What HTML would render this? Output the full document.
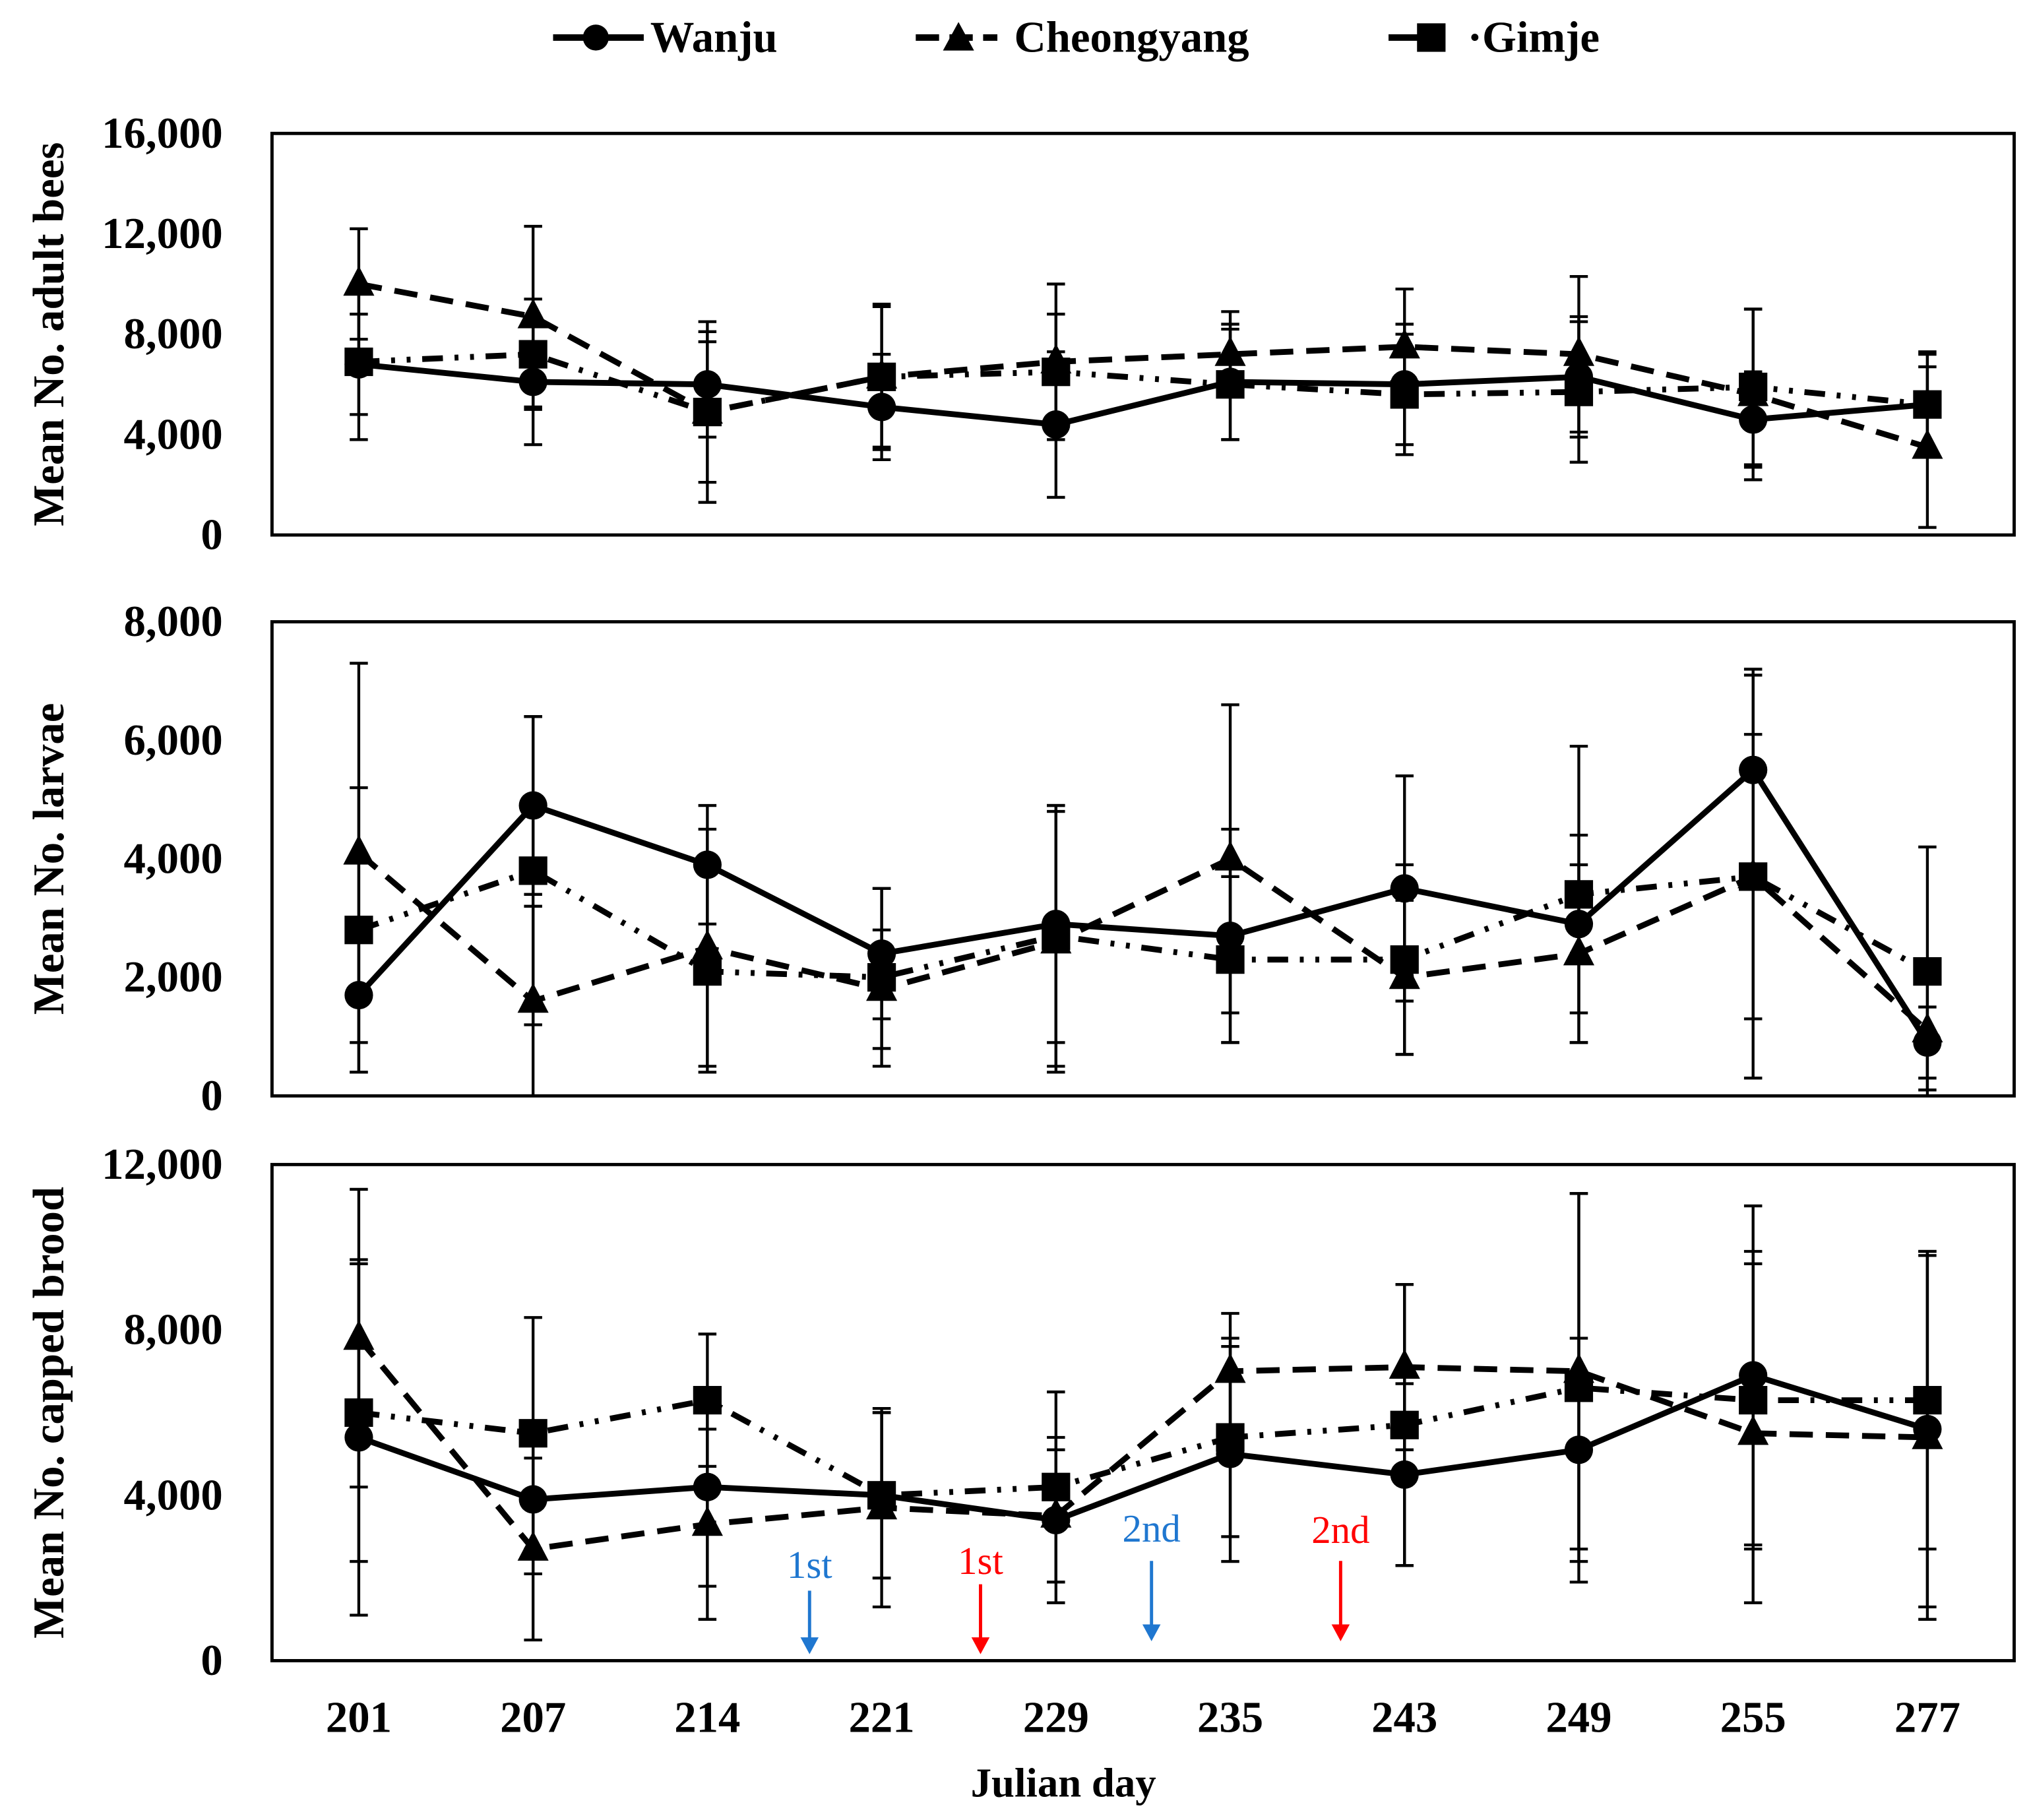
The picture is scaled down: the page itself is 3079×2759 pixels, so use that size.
<!DOCTYPE html>
<html><head><meta charset="utf-8"><style>
html,body{margin:0;padding:0;background:#fff;}
svg{display:block;}
text{font-family:"Liberation Serif",serif;}
</style></head><body>
<svg id="chart" width="3079" height="2759" viewBox="0 0 1568 1405" preserveAspectRatio="none" xmlns="http://www.w3.org/2000/svg">
<g id="legend">
  <g>
    <line x1="427" y1="29" x2="497" y2="29" stroke="#000" stroke-width="5"/>
    <circle cx="460" cy="29" r="10" fill="#000"/>
    <text x="502" y="40" font-size="34" font-weight="bold">Wanju</text>
  </g>
  <g>
    <line x1="707" y1="29" x2="770" y2="29" stroke="#000" stroke-width="5" stroke-dasharray="18 8"/>
    <polygon points="740,17 752,39 728,39" fill="#000"/>
    <text x="783" y="40" font-size="34" font-weight="bold">Cheongyang</text>
  </g>
  <g>
    <line x1="1072" y1="29" x2="1115" y2="29" stroke="#000" stroke-width="5"/>
    <rect x="1094" y="18" width="22" height="22" fill="#000"/>
    <text x="1133" y="40" font-size="34" font-weight="bold">·Gimje</text>
  </g>
</g>
<g id="plots"></g>
<g><text x="821" y="1387" font-size="32" font-weight="bold" text-anchor="middle">Julian day</text></g>
</svg>
<script>
const categories = ["201","207","214","221","229","235","243","249","255","277"];
// Panel 1: adult bees
const adultWanju = [6800,6100,6000,5100,4400,6100,6000,6300,4600,5200];
const adultWanjuErr = [2000,2500,2100,2100,2900,2300,2400,2400,1900,2100];
const adultCheong = [10000,8700,4900,6300,6900,7200,7500,7200,5600,3500];
const adultCheongErr = [2200,3600,3600,2900,3100,1700,2300,3100,3400,3200];
const adultGimje = [6900,7200,4900,6300,6500,6000,5600,5700,5900,5200];
const adultGimjeErr = [3100,2200,2800,2800,2300,2200,2400,2800,3100,2000];
// Panel 2: larvae
const larvWanju = [1700,4900,3900,2400,2900,2700,3500,2900,5500,900];
const larvWanjuErr = [1300,1500,1000,1100,2000,1800,1900,1500,1700,600];
const larvCheong = [4100,1600,2500,1800,2600,4000,2000,2400,3700,1100];
const larvCheongErr = [3200,1600,2000,1000,2200,2600,1300,1500,2400,1000];
const larvGimje = [2800,3800,2100,2000,2700,2300,2300,3400,3700,2100];
const larvGimjeErr = [2400,2600,1700,1500,2200,1400,1600,2500,3400,2100];
// Panel 3: capped brood
const broodWanju = [5400,3900,4200,4000,3400,5000,4500,5100,6900,5600];
const broodWanjuErr = [4300,1800,2400,2000,2000,2600,2200,2700,4100,4300];
const broodCheong = [7800,2700,3300,3700,3500,7000,7100,7000,5500,5400];
const broodCheongErr = [3600,2200,2300,2400,1600,1400,2000,4300,4100,4400];
const broodGimje = [6000,5500,6300,4000,4200,5400,5700,6600,6300,6300];
const broodGimjeErr = [3600,2800,1600,2000,2300,2400,3400,4700,3600,3600];

const yTicks1 = [0,4000,8000,12000,16000];
const yTicks2 = [0,2000,4000,6000,8000];
const yTicks3 = [0,4000,8000,12000];

const NS = "http://www.w3.org/2000/svg";
const plots = document.getElementById('plots');
const X0 = 210, X1 = 1555;
function xPos(i){ return 277 + i*(1488-277)/(categories.length-1); }
function mk(tag, attrs, parent){ const e=document.createElementNS(NS,tag); for(const k in attrs) e.setAttribute(k,attrs[k]); parent.appendChild(e); return e; }
function fmt(v){ return v.toLocaleString('en-US'); }

const panels = [
 {name:'adult-bees', top:103, bottom:413, max:16000, ticks:yTicks1, title:'Mean No. adult bees',
  series:[[adultWanju,adultWanjuErr],[adultCheong,adultCheongErr],[adultGimje,adultGimjeErr]]},
 {name:'larvae', top:480, bottom:846, max:8000, ticks:yTicks2, title:'Mean No. larvae',
  series:[[larvWanju,larvWanjuErr],[larvCheong,larvCheongErr],[larvGimje,larvGimjeErr]]},
 {name:'capped-brood', top:899, bottom:1282, max:12000, ticks:yTicks3, title:'Mean No. capped brood',
  series:[[broodWanju,broodWanjuErr],[broodCheong,broodCheongErr],[broodGimje,broodGimjeErr]]}
];
const sNames = ['wanju','cheongyang','gimje'];
const dashes = ['none','18 10','16 9 3 9 3 9'];

panels.forEach(p=>{
  const g = mk('g',{},plots);
  
  
  const y = v => p.bottom - v/p.max*(p.bottom-p.top);
  const fr = mk('rect',{x:X0,y:p.top,width:X1-X0,height:p.bottom-p.top,fill:'none',stroke:'#000','stroke-width':2.5},g);
  
  
  p.ticks.forEach(t=>{
    const tx = mk('text',{x:172,y:y(t)+11,'font-size':34,'font-weight':'bold','text-anchor':'end'},g);
    tx.textContent = fmt(t);
    
    
  });
  const cy = (p.top+p.bottom)/2;
  const tt = mk('text',{x:0,y:0,'font-size':34,'font-weight':'bold','text-anchor':'middle',transform:`translate(49,${cy}) rotate(-90)`},g);
  tt.textContent = p.title;
  
  
  p.series.forEach((s,si)=>{
    s[0].forEach((v,i)=>{
      const x=xPos(i); const hi=Math.min(p.max, v+s[1][i]); const lo=Math.max(0,v-s[1][i]);
      const eb = mk('path',{d:`M${x},${y(hi)}V${y(lo)}M${x-7},${y(hi)}H${x+7}M${x-7},${y(lo)}H${x+7}`,stroke:'#000','stroke-width':2.2,fill:'none'},g);
      
      
    });
  });
  p.series.forEach((s,si)=>{
    const d = s[0].map((v,i)=>(i?'L':'M')+xPos(i)+','+y(v)).join('');
    const ln = mk('path',{d:d,fill:'none',stroke:'#000','stroke-width':4.5,'stroke-dasharray':dashes[si]},g);
    
    
    s[0].forEach((v,i)=>{
      const x=xPos(i), yy=y(v); let m;
      if(si===0) m = mk('circle',{cx:x,cy:yy,r:11,fill:'#000'},g);
      else if(si===1) m = mk('polygon',{points:`${x},${yy-14} ${x+12},${yy+9} ${x-12},${yy+9}`,fill:'#000'},g);
      else m = mk('rect',{x:x-11,y:yy-11,width:22,height:22,fill:'#000'},g);
      
      
    });
  });
});
categories.forEach((c,i)=>{
  const t = mk('text',{x:xPos(i),y:1337,'font-size':34,'font-weight':'bold','text-anchor':'middle'},plots);
  t.textContent = c;
  
  
});
const arrowLabels = ['1st','1st','2nd','2nd'];
const arrowColors = ['#1f77d0','#ff0000','#1f77d0','#ff0000'];
const arrowX = [625,757,889,1035];
const arrowTextY = [1218,1215,1190,1191];
const arrowTop = [1228,1223,1205,1205];
const arrowBottom = [1277,1277,1267,1267];
arrowLabels.forEach((l,i)=>{
  const g = mk('g',{},plots);
  
  
  const t = mk('text',{x:arrowX[i],y:arrowTextY[i],'font-size':30,fill:arrowColors[i],'text-anchor':'middle'},g);
  t.textContent = l;
  mk('line',{x1:arrowX[i],y1:arrowTop[i],x2:arrowX[i],y2:arrowBottom[i]-10,stroke:arrowColors[i],'stroke-width':2.5},g);
  mk('polygon',{points:`${arrowX[i]-7},${arrowBottom[i]-13} ${arrowX[i]+7},${arrowBottom[i]-13} ${arrowX[i]},${arrowBottom[i]}`,fill:arrowColors[i]},g);
});
</script>
</body></html>
